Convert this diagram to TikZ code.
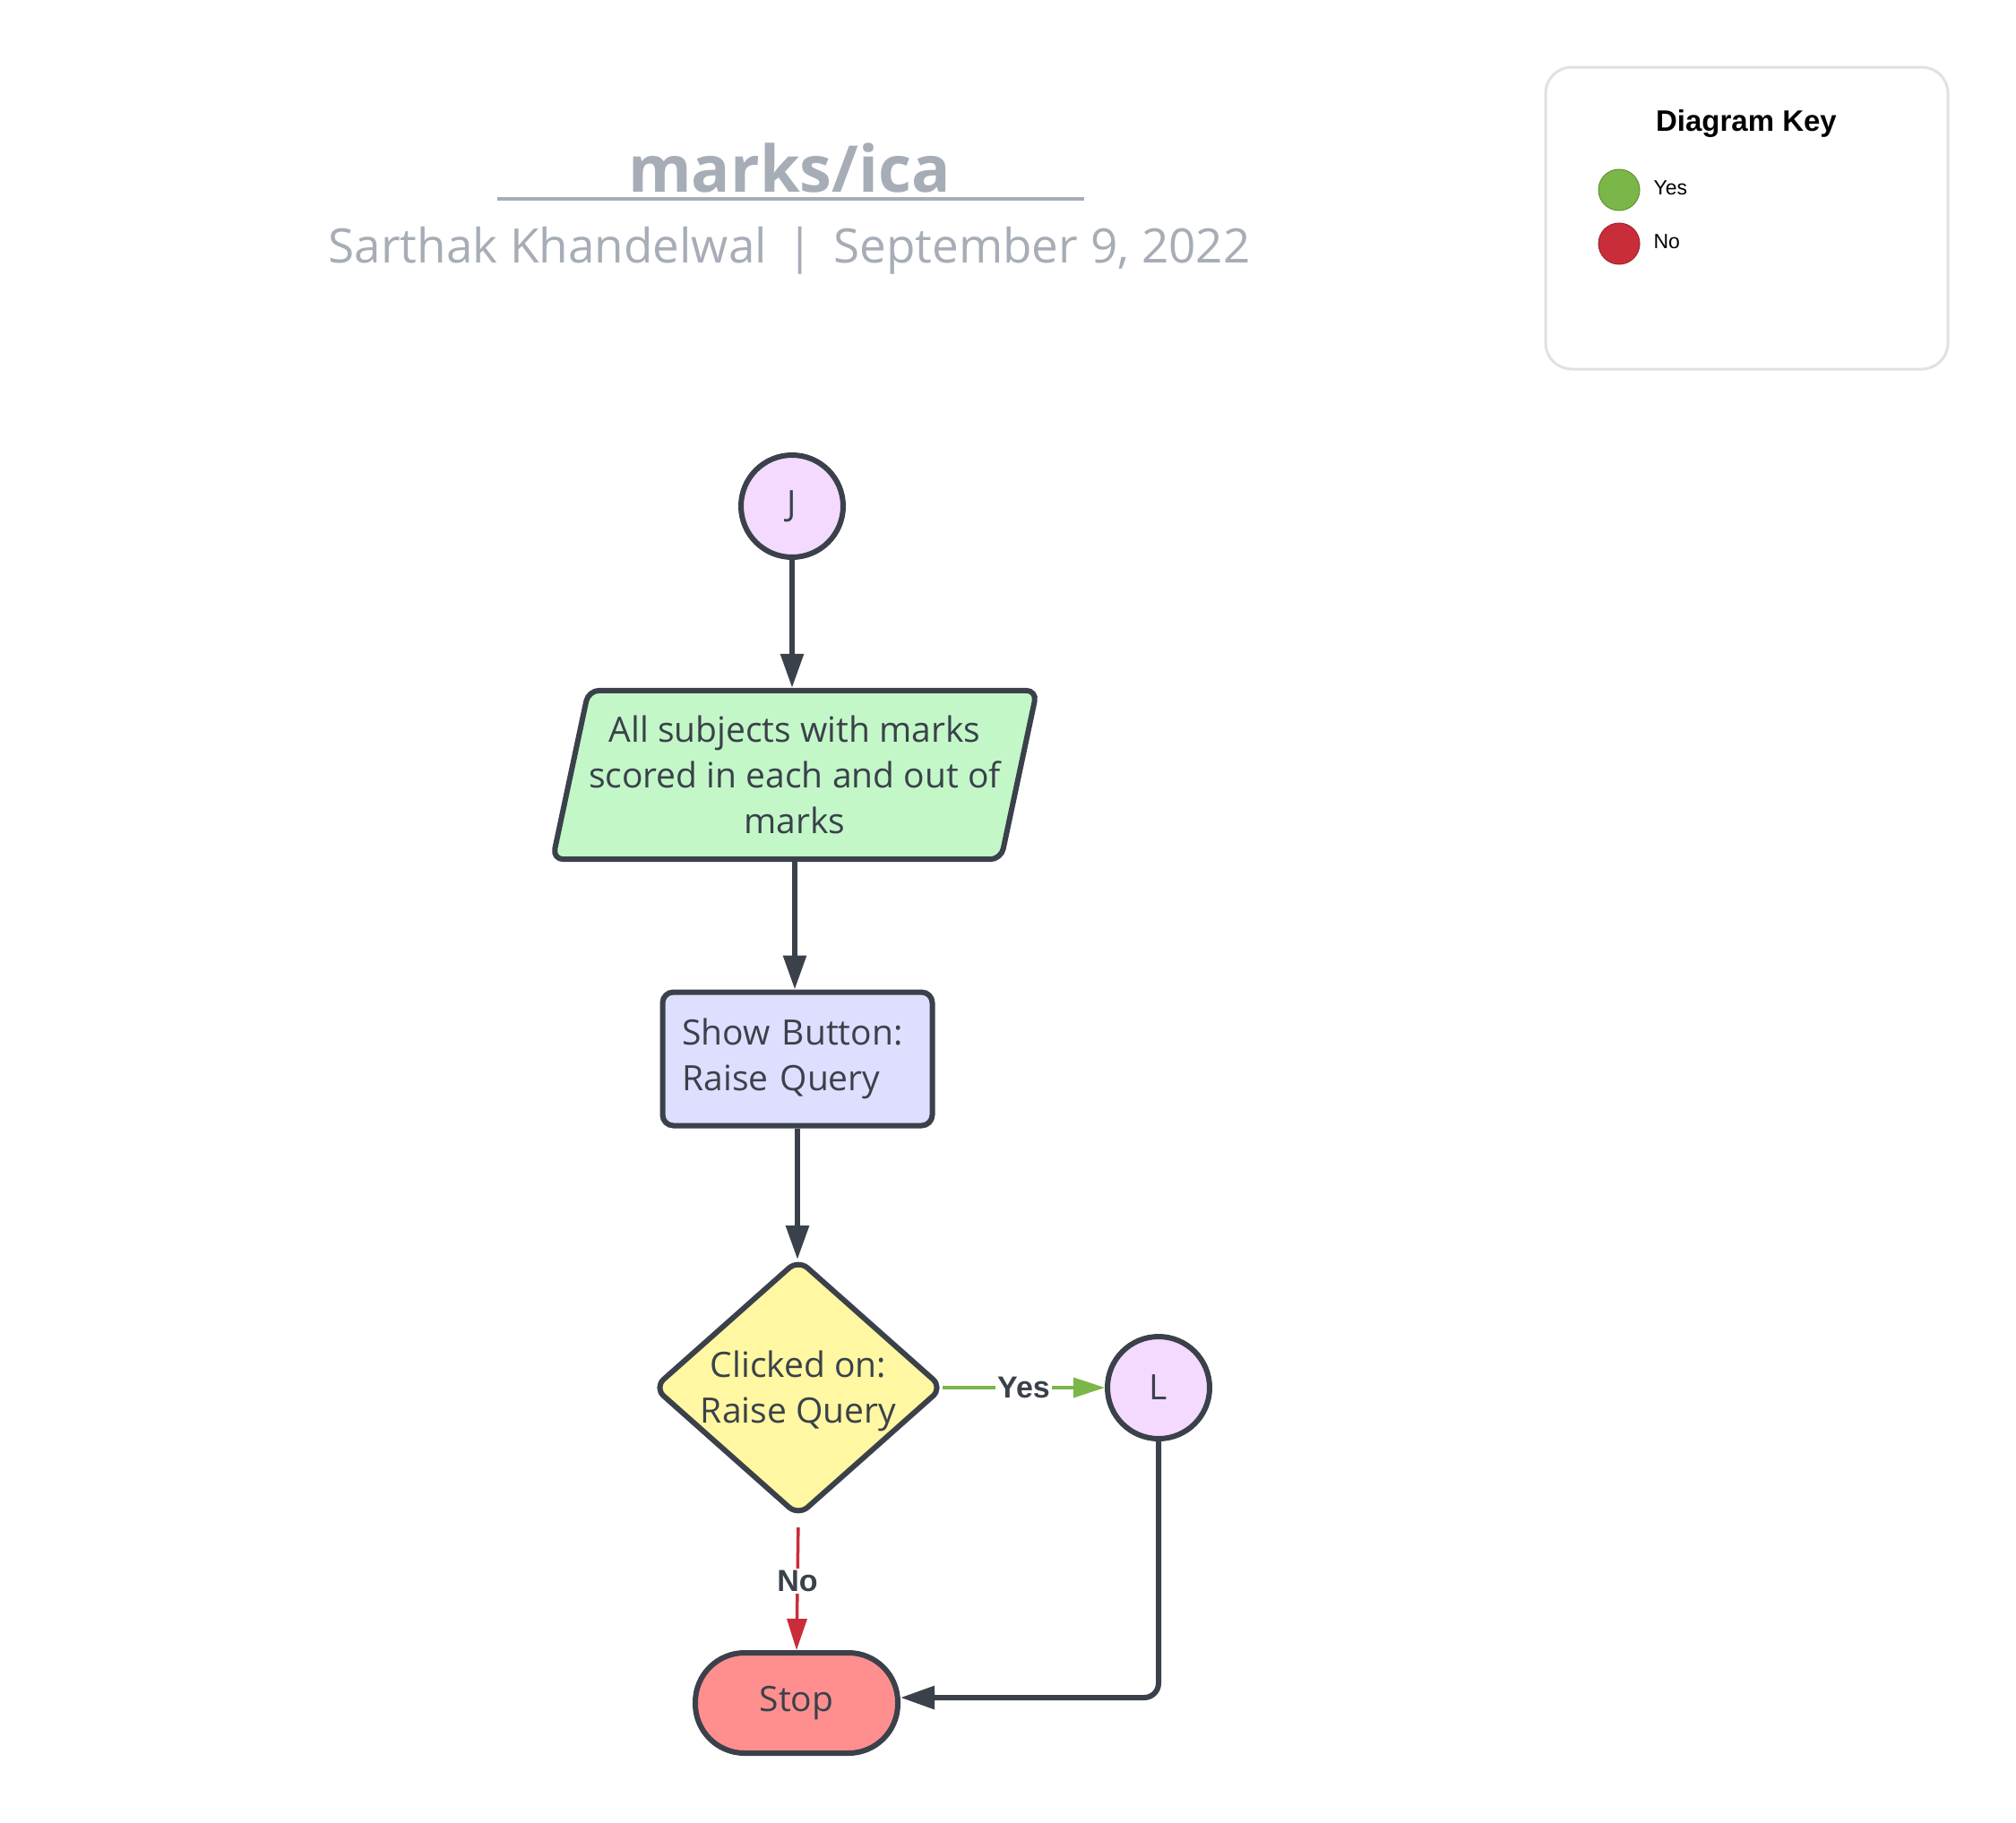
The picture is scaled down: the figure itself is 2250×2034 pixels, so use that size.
\documentclass[tikz,border=0pt]{standalone}
\usepackage{fontspec}
\setmainfont{Open Sans}
\newfontfamily\arialf{Liberation Sans}
\usetikzlibrary{shapes.geometric,arrows.meta,calc}
\definecolor{ink}{RGB}{58,65,74}
\definecolor{titlegray}{RGB}{167,173,183}
\definecolor{purplefill}{RGB}{243,218,254}
\definecolor{greenfill}{RGB}{195,247,200}
\definecolor{bluefill}{RGB}{222,222,255}
\definecolor{yellowfill}{RGB}{255,247,161}
\definecolor{redfill}{RGB}{255,143,143}
\definecolor{yesgreen}{RGB}{122,182,72}
\definecolor{nored}{RGB}{201,45,57}
\definecolor{keyborder}{RGB}{223,225,230}
\tikzset{
  base/.style={draw=ink, line width=6pt, text=ink, font=\fontsize{39}{51}\selectfont},
  circ/.style={base, circle, fill=purplefill, minimum size=114pt, inner sep=0pt},
  paratext/.style={text=ink, font=\fontsize{39}{51}\selectfont, align=center, minimum width=500pt, minimum height=188pt, inner sep=0pt},
  procbox/.style={base, rectangle, rounded corners=12pt, fill=bluefill, minimum width=301pt, minimum height=149pt, text width=257pt, align=left, inner sep=0pt},
  decbox/.style={base, diamond, rounded corners=14pt, fill=yellowfill, minimum width=324pt, minimum height=288pt, inner sep=0pt},
  dectext/.style={text=ink, font=\fontsize{39}{51}\selectfont, align=center, inner sep=0pt},
  termbox/.style={base, rectangle, rounded corners=55pt, fill=redfill, minimum width=226pt, minimum height=112pt},
  conn/.style={draw=ink, line width=6pt, -{Triangle[length=38pt,width=25pt]}},
  yesconn/.style={draw=yesgreen, line width=3.5pt, -{Triangle[length=35pt,width=22pt]}},
  noconn/.style={draw=nored, line width=3.5pt, -{Triangle[length=35pt,width=22pt]}},
  lbl/.style={fill=white, text=ink, inner sep=2pt, font=\arialf\bfseries\fontsize{34}{38}\selectfont},
  keydot/.style={circle, minimum size=46pt, inner sep=0pt, line width=1pt}
}
\begin{document}
\begin{tikzpicture}[x=1pt,y=-1pt]
\useasboundingbox[fill=white] (0,0) rectangle (2250,2034);
% title
\node[anchor=base, text=titlegray, font=\bfseries\fontsize{72}{76}\selectfont] (title) at (881,214) {marks/ica};
\coordinate (ulA) at (555,222);
\coordinate (ulB) at (1210,222);
\draw[titlegray, line width=3.5pt] (ulA) -- (ulB);
\node[anchor=base, text=titlegray, font=\fontsize{53}{60}\selectfont] (sub) at (881,293) {Sarthak Khandelwal \,|\, September 9, 2022};
% key
\node[draw=keyborder, line width=3pt, rounded corners=29pt, minimum width=449pt, minimum height=337pt] (key) at (1949.5,243.5) {};
\node[font=\arialf\bfseries\fontsize{33}{38}\selectfont, text=black] (keyt) at (1949,138) {Diagram Key};
\node[keydot, fill=yesgreen, draw=yesgreen!80!black] (kyes) at (1807,212) {};
\node[keydot, fill=nored, draw=nored!80!black] (kno) at (1807,272) {};
\node[anchor=west, font=\arialf\fontsize{23}{28}\selectfont] (kyest) at (1842,210) {Yes};
\node[anchor=west, font=\arialf\fontsize{23}{28}\selectfont] (knot) at (1842,270) {No};
% flow
\node[circ] (J) at (884,565) {J};
\node[paratext] (P) at (887,865) {};
\draw[draw=ink, line width=6pt, fill=greenfill, rounded corners=12pt]
  ($(P.north west)+(20,0)$) -- ($(P.north east)+(20,0)$) -- ($(P.south east)+(-20,0)$) -- ($(P.south west)+(-20,0)$) -- cycle;
\node[paratext] (Ptext) at (P) {All subjects with marks\\scored in each and out of\\marks};
\node[procbox] (R) at (890,1182) {Show Button:\\Raise Query};
\node[decbox] (D) at (891,1549) {};
\node[dectext] (Dtext) at (891,1553) {Clicked on:\\Raise Query};
\node[circ] (L) at (1293,1549) {L};
\node[termbox] (S) at (889,1901) {Stop};
% connectors
\draw[conn] (J.south) -- ($(J.south |- P.north)+(0,-3)$);
\draw[conn] (P.south) -- (P.south |- R.north);
\draw[conn] (R.south) -- ($(R.south |- D.north)+(0,4)$);
\draw[yesconn] ($(D.east)+(-4,0)$) -- node[lbl] {Yes} (L.west);
\draw[noconn, shorten <=9pt] (D.south) -- node[lbl, pos=0.47] {No} (S.north);
\draw[conn, rounded corners=16pt] (L.south) |- ($(S.east)+(0,-6)$);
\end{tikzpicture}
\end{document}
